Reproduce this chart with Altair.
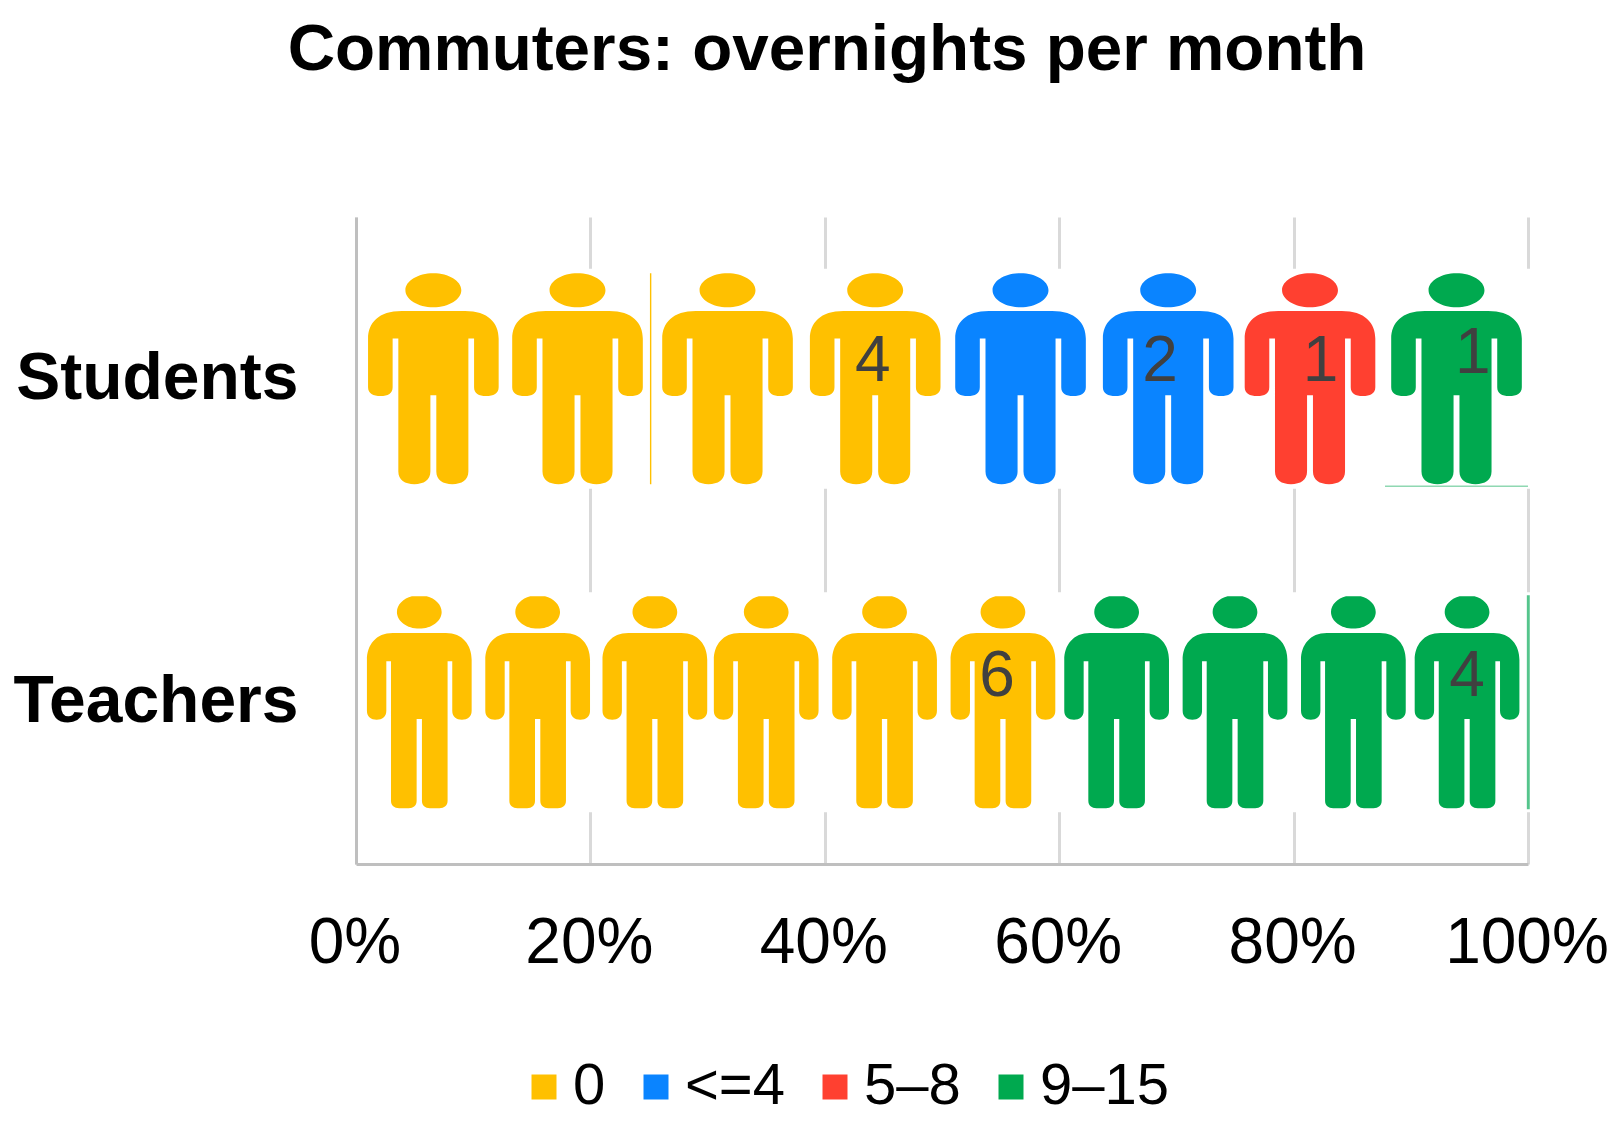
import altair as alt
import pandas as pd

TITLE = "Commuters: overnights per month"
GROUPS = ["Students", "Teachers"]
CATEGORIES = ["0", "<=4", "5–8", "9–15"]
COLORS = ["#FFC000", "#0A84FF", "#FF4030", "#00A94F"]
TICKS = [0, 20, 40, 60, 80, 100]

student_x = [6.6, 18.9, 31.7, 44.3, 56.7, 69.3, 81.4, 93.9]
student_cat = ["0", "0", "0", "0", "<=4", "<=4", "5–8", "9–15"]
teacher_x = [5.4, 15.5, 25.5, 35.0, 45.1, 55.2, 64.9, 75.0, 85.1, 94.8]
teacher_cat = ["0"] * 6 + ["9–15"] * 4

label_group = ["Students", "Students", "Students", "Students", "Teachers", "Teachers"]
label_x = [44.1, 68.6, 82.3, 95.3, 54.7, 94.8]
label_text = ["4", "2", "1", "1", "6", "4"]

PERSON_WIDE = (
    "M-0.265,-0.839 A0.265,0.161 0 1 1 0.265,-0.839 A0.265,0.161 0 1 1 -0.265,-0.839 Z "
    "M-0.3,-0.643 L0.3,-0.643 C0.52,-0.643 0.619,-0.53 0.619,-0.38 L0.619,0.08 "
    "C0.619,0.14 0.57,0.163 0.5,0.163 C0.43,0.163 0.386,0.14 0.386,0.08 "
    "L0.386,-0.381 L0.332,-0.381 L0.332,0.88 C0.332,0.96 0.27,1 0.18,1 "
    "C0.09,1 0.028,0.96 0.028,0.88 L0.028,0.156 L-0.028,0.156 L-0.028,0.88 "
    "C-0.028,0.96 -0.09,1 -0.18,1 C-0.27,1 -0.332,0.96 -0.332,0.88 "
    "L-0.332,-0.381 L-0.386,-0.381 L-0.386,0.08 C-0.386,0.14 -0.43,0.163 -0.5,0.163 "
    "C-0.57,0.163 -0.619,0.14 -0.619,0.08 L-0.619,-0.38 "
    "C-0.619,-0.53 -0.52,-0.643 -0.3,-0.643 Z"
)
PERSON_SLIM = (
    "M-0.211,-0.852 A0.211,0.157 0 0 0 0.211,-0.852 C0.211,-0.92 0.15,-0.98 0.07,-1 "
    "L-0.07,-1 C-0.15,-0.98 -0.211,-0.92 -0.211,-0.852 Z "
    "M-0.25,-0.654 L0.25,-0.654 C0.41,-0.654 0.494,-0.54 0.494,-0.4 L0.494,0.08 "
    "C0.494,0.14 0.455,0.164 0.402,0.164 C0.35,0.164 0.311,0.14 0.311,0.08 "
    "L0.311,-0.387 L0.267,-0.387 L0.267,0.93 C0.267,0.975 0.235,1 0.19,1 L0.1,1 "
    "C0.055,1 0.025,0.975 0.025,0.93 L0.025,0.157 L-0.025,0.157 L-0.025,0.93 "
    "C-0.025,0.975 -0.055,1 -0.1,1 L-0.19,1 C-0.235,1 -0.267,0.975 -0.267,0.93 "
    "L-0.267,-0.387 L-0.311,-0.387 L-0.311,0.08 C-0.311,0.14 -0.35,0.164 -0.402,0.164 "
    "C-0.455,0.164 -0.494,0.14 -0.494,0.08 L-0.494,-0.4 "
    "C-0.494,-0.54 -0.41,-0.654 -0.25,-0.654 Z"
)

FONT = "Liberation Sans"

students = pd.DataFrame({"group": "Students", "x": student_x, "cat": student_cat})
teachers = pd.DataFrame({"group": "Teachers", "x": teacher_x, "cat": teacher_cat})
labels = pd.DataFrame({"group": label_group, "x": label_x, "t": label_text})
masks = pd.DataFrame({"group": GROUPS, "x": [0.22, 0.22], "x2": [100.2, 100.2]})
orange_edge = pd.DataFrame({"group": ["Students"], "x": [25.08], "x2": [25.2]})
green_edge = pd.DataFrame({"group": ["Teachers"], "x": [99.9], "x2": [100.15]})
green_base = pd.DataFrame({"group": ["Students"], "x": [87.8], "x2": [100.0]})

x_scale = alt.Scale(domain=[0, 100], nice=False, zero=False)
y_scale = alt.Scale(type="band", domain=GROUPS, paddingInner=0, paddingOuter=0)
color_scale = alt.Scale(domain=CATEGORIES, range=COLORS)

x_axis = alt.Axis(
    values=TICKS, labelExpr="datum.value + '%'", grid=True, gridColor="#d9d9d9", gridWidth=3,
    domain=True, domainColor="#bfbfbf", domainWidth=3, ticks=False, title=None,
    labelFont=FONT, labelFontSize=64, labelColor="#000000", labelPadding=47, labelOffset=-1.5,
    labelOverlap=False, labelFlush=False, labelBound=False,
)
y_axis = alt.Axis(
    grid=False, domain=True, domainColor="#bfbfbf", domainWidth=3, ticks=False, title=None,
    labelFont=FONT, labelFontSize=66, labelFontWeight="bold", labelColor="#000000",
    labelPadding=58, labelLimit=500,
)

X = alt.X("x:Q", scale=x_scale, axis=x_axis, title=None)
Y = alt.Y("group:N", scale=y_scale, axis=y_axis, title=None)

mask = alt.Chart(masks).mark_bar(size=220, color="white").encode(x=X, x2="x2:Q", y=Y)
orange = alt.Chart(orange_edge).mark_bar(size=211, color="#FFC000").encode(x=X, x2="x2:Q", y=Y)
green_v = alt.Chart(green_edge).mark_bar(size=214, color="#55C58C").encode(x=X, x2="x2:Q", y=Y)
green_h = alt.Chart(green_base).mark_rule(color="#8FD8B2", strokeWidth=1.5, yOffset=107.5).encode(
    x=X, x2="x2:Q", y=Y
)

legend = alt.Legend(
    title=None, orient="none", legendX=159, legendY=841, direction="horizontal",
    symbolType="square", symbolSize=625, symbolStrokeWidth=0, labelFont=FONT,
    labelFontSize=58, labelColor="#000000", labelOffset=0, columnPadding=21,
    columns=4, labelLimit=300, symbolOpacity=1,
)


def people(df, path, size, show_legend):
    return alt.Chart(df).mark_point(
        shape=path, size=size, filled=True, opacity=1, strokeWidth=0
    ).encode(
        x=X, y=Y,
        color=alt.Color("cat:N", scale=color_scale, legend=legend if show_legend else None),
    )


def number_layer(group, dy, keep):
    sub = labels[(labels.group == group)]
    sub = sub[sub.x.isin(keep)]
    return alt.Chart(sub).mark_text(
        font=FONT, fontSize=64, color="#404040", dy=dy, baseline="middle", align="center"
    ).encode(x=X, y=Y, text="t:N")


chart = alt.layer(
    mask, orange, green_v, green_h,
    people(students, PERSON_WIDE, 44521, True),
    people(teachers, PERSON_SLIM, 44944, False),
    number_layer("Students", -17, [44.1, 68.6, 82.3]),
    number_layer("Students", -25, [95.3]),
    number_layer("Teachers", -25, [54.7, 94.8]),
).properties(
    width=1172, height=647,
    padding={"left": 348, "top": 209, "right": 88, "bottom": 250},
    autosize=alt.AutoSizeParams(type="none"),
    background="white",
    title=alt.TitleParams(
        TITLE, font=FONT, fontSize=65.6, fontWeight="bold", color="#000000",
        anchor="middle", dx=-115, offset=133.5,
    ),
).configure_view(stroke=None)

chart.save("out.html", embed_options={"renderer": "svg", "actions": False})
